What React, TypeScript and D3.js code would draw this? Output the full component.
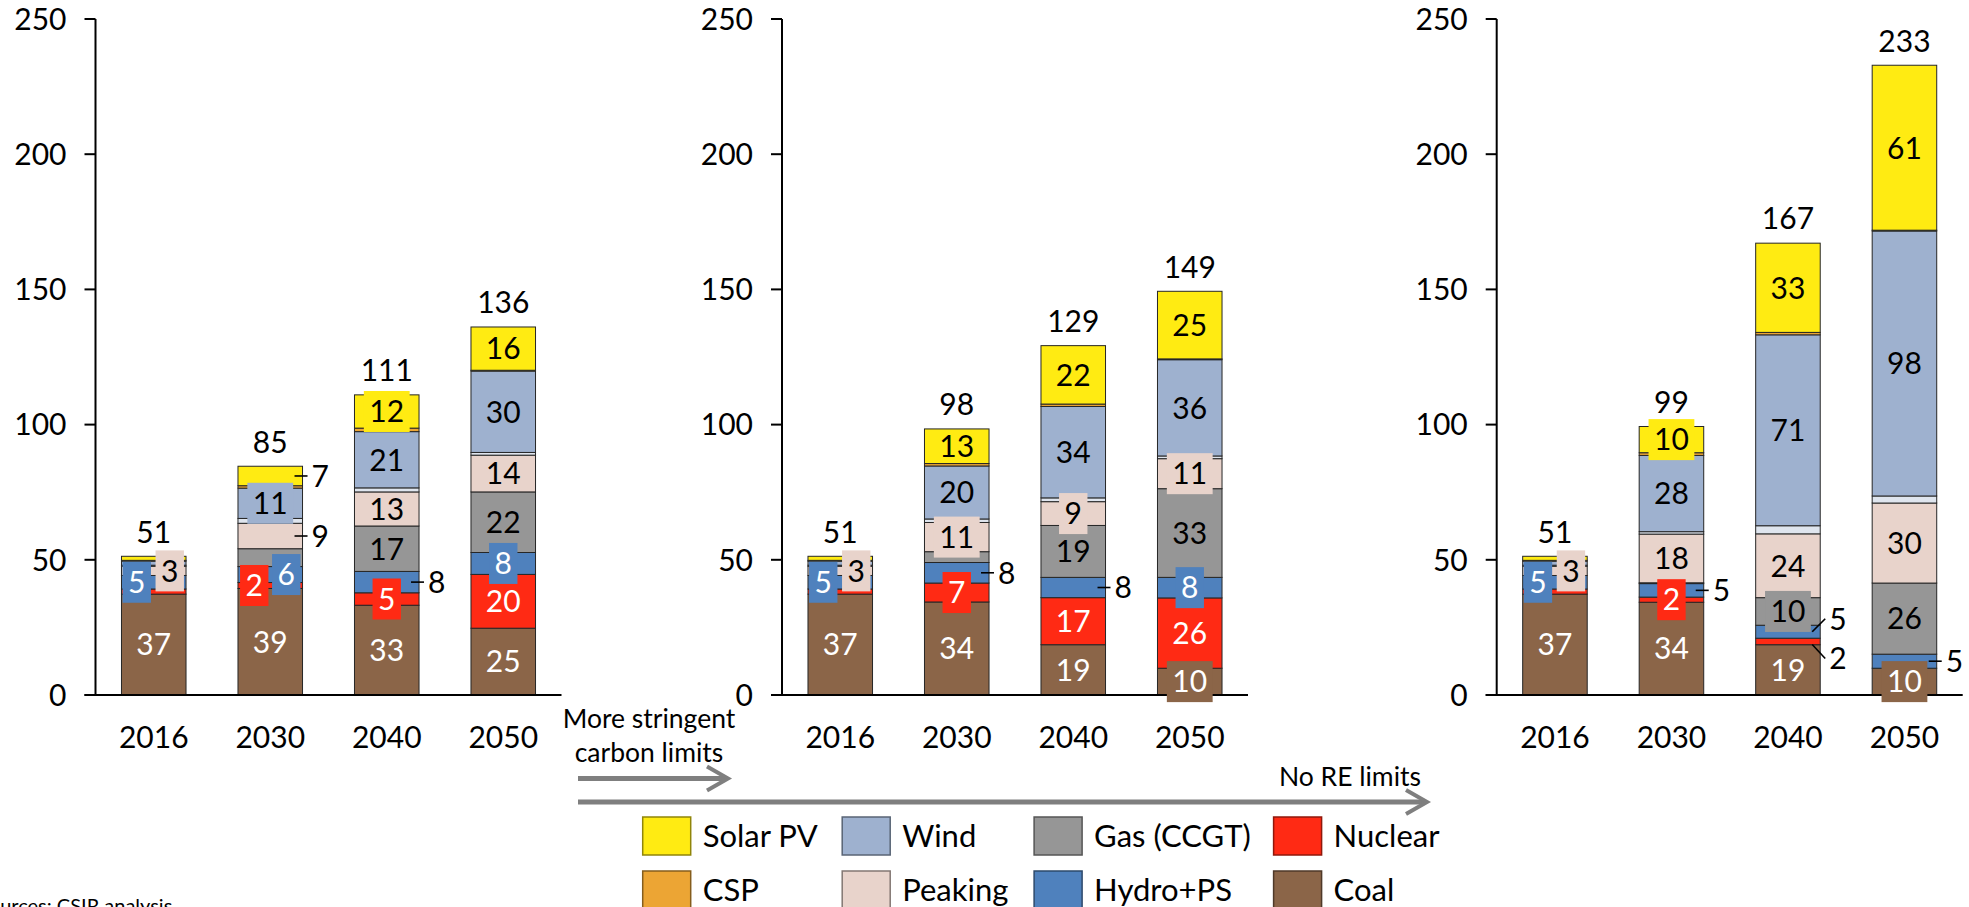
import React from 'react';
import * as d3 from 'd3';

// ---------- DATA ----------
const years = ['2016', '2030', '2040', '2050'];
const seriesKeys = ['coal', 'nuclear', 'hydro', 'gas', 'peaking', 'other', 'wind', 'csp', 'pv'];
const seriesColors: Record<string, string> = {
  coal: '#8b6548',
  nuclear: '#ff2a14',
  hydro: '#4f81bd',
  gas: '#969696',
  peaking: '#e8d3cb',
  other: '#dfe5ee',
  wind: '#9eb1cf',
  csp: '#eca534',
  pv: '#ffeb12',
};
const legendRow1 = [['pv', 'Solar PV'], ['wind', 'Wind'], ['gas', 'Gas (CCGT)'], ['nuclear', 'Nuclear']];
const legendRow2 = [['csp', 'CSP'], ['peaking', 'Peaking'], ['hydro', 'Hydro+PS'], ['coal', 'Coal']];
const yTicks = [0, 50, 100, 150, 200, 250];

// Scenario 1 (base)
const scenario1 = {
  coal: [37.3, 39.4, 33.2, 24.7],
  nuclear: [1.9, 2.2, 4.6, 19.9],
  hydro: [5.0, 5.9, 7.9, 8.1],
  gas: [0, 6.6, 16.8, 22.4],
  peaking: [3.4, 9.4, 12.6, 13.6],
  other: [0.4, 1.8, 1.5, 1.0],
  wind: [1.5, 11.2, 20.8, 30.1],
  csp: [0.3, 0.9, 1.3, 0.3],
  pv: [1.5, 7.2, 12.3, 16.0],
};
// Scenario 2 (more stringent carbon limits)
const scenario2 = {
  coal: [37.3, 34.4, 18.6, 9.9],
  nuclear: [1.9, 7.0, 17.4, 26.0],
  hydro: [5.0, 7.6, 7.5, 7.6],
  gas: [0, 4.0, 19.2, 32.8],
  peaking: [3.4, 10.8, 8.8, 11.1],
  other: [0.4, 1.3, 1.4, 1.0],
  wind: [1.5, 19.6, 33.8, 35.6],
  csp: [0.3, 0.9, 0.9, 0.3],
  pv: [1.5, 12.8, 21.6, 25.0],
};
// Scenario 3 (no RE limits)
const scenario3 = {
  coal: [37.3, 34.3, 18.6, 9.9],
  nuclear: [1.9, 1.9, 2.4, 0],
  hydro: [5.0, 5.0, 4.8, 5.2],
  gas: [0, 0.3, 10.2, 26.3],
  peaking: [3.4, 18.0, 23.6, 29.6],
  other: [0.4, 0.9, 3.0, 2.6],
  wind: [1.5, 28.2, 70.6, 98.0],
  csp: [0.3, 1.0, 0.9, 0.3],
  pv: [1.5, 9.7, 33.0, 61.0],
};

// label placement: [yearIndex, series, style, dx]
type LabelSpec = [number, string, string, number?];
const labels2016: LabelSpec[] = [[0, 'coal', 'in'], [0, 'hydro', 'box', -17], [0, 'peaking', 'box', 16]];
const labels1: LabelSpec[] = [
  ...labels2016,
  [1, 'coal', 'in'], [1, 'nuclear', 'box', -16], [1, 'hydro', 'box', 16], [1, 'peaking', 'lead'], [1, 'wind', 'box'], [1, 'pv', 'lead'],
  [2, 'coal', 'in'], [2, 'nuclear', 'box'], [2, 'hydro', 'lead'], [2, 'gas', 'in'], [2, 'peaking', 'in'], [2, 'wind', 'in'], [2, 'pv', 'box'],
  [3, 'coal', 'in'], [3, 'nuclear', 'in'], [3, 'hydro', 'box'], [3, 'gas', 'in'], [3, 'peaking', 'in'], [3, 'wind', 'in'], [3, 'pv', 'in'],
];
const labels2: LabelSpec[] = [
  ...labels2016,
  [1, 'coal', 'in'], [1, 'nuclear', 'box'], [1, 'hydro', 'lead'], [1, 'peaking', 'box'], [1, 'wind', 'in'], [1, 'pv', 'in'],
  [2, 'coal', 'in'], [2, 'nuclear', 'in'], [2, 'hydro', 'lead'], [2, 'gas', 'in'], [2, 'peaking', 'box'], [2, 'wind', 'in'], [2, 'pv', 'in'],
  [3, 'coal', 'box'], [3, 'nuclear', 'in'], [3, 'hydro', 'box'], [3, 'gas', 'in'], [3, 'peaking', 'box'], [3, 'wind', 'in'], [3, 'pv', 'in'],
];
const labels3: LabelSpec[] = [
  ...labels2016,
  [1, 'coal', 'in'], [1, 'nuclear', 'box'], [1, 'hydro', 'lead'], [1, 'peaking', 'in'], [1, 'wind', 'in'], [1, 'pv', 'box'],
  [2, 'coal', 'in'], [2, 'nuclear', 'leadDown'], [2, 'hydro', 'leadUp'], [2, 'gas', 'box'], [2, 'peaking', 'in'], [2, 'wind', 'in'], [2, 'pv', 'in'],
  [3, 'coal', 'box'], [3, 'hydro', 'lead'], [3, 'gas', 'in'], [3, 'peaking', 'in'], [3, 'wind', 'in'], [3, 'pv', 'in'],
];

// ---------- LAYOUT ----------
const W = 1969;
const H = 907;
const FONT = "Lato, 'Open Sans', sans-serif";
const panelAxisX = [95.5, 782, 1496.7];
const panelWidth = 466;
const yScale = d3.scaleLinear().domain([0, 250]).range([695, 19]);
const whiteText = new Set(['coal', 'nuclear', 'hydro']);
const fmt = d3.format('.0f');

type Scenario = Record<string, number[]>;

function Panel({ data, axisX, specs }: { data: Scenario; axisX: number; specs: LabelSpec[] }) {
  const rows = years.map((y, i) => {
    const r: any = { year: y };
    seriesKeys.forEach((k) => (r[k] = data[k][i]));
    return r;
  });
  const stack = d3.stack<any>().keys(seriesKeys)(rows);
  const x = d3
    .scaleBand<string>()
    .domain(years)
    .range([axisX, axisX + panelWidth])
    .paddingInner(0.446)
    .paddingOuter(0.223);
  const bw = x.bandwidth();
  const totals = rows.map((r) => d3.sum(seriesKeys, (k) => r[k]));
  const charW = 17.4;

  return (
    <g>
      {/* bars */}
      {stack.map((s) => (
        <g key={s.key}>
          {s.map((d, i) => {
            const h = yScale(d[0]) - yScale(d[1]);
            if (h <= 0) return null;
            return (
              <rect
                key={i}
                x={x(years[i])}
                y={yScale(d[1])}
                width={bw}
                height={h}
                fill={seriesColors[s.key]}
                stroke="#262626"
                strokeWidth={1}
              />
            );
          })}
        </g>
      ))}
      {/* axes */}
      <line x1={axisX} x2={axisX} y1={yScale(250)} y2={yScale(0)} stroke="#000" strokeWidth={2} />
      <line x1={axisX - 11} x2={axisX + panelWidth} y1={yScale(0)} y2={yScale(0)} stroke="#000" strokeWidth={2} />
      {yTicks.map((t) => (
        <g key={t}>
          <line x1={axisX - 11} x2={axisX} y1={yScale(t)} y2={yScale(t)} stroke="#000" strokeWidth={2} />
          <text x={axisX - 29} y={yScale(t)} dy="0.36em" textAnchor="end" fontSize={30} fill="#000">
            {t}
          </text>
        </g>
      ))}
      {years.map((y) => (
        <text key={y} x={x(y)! + bw / 2} y={737} dy="0.36em" textAnchor="middle" fontSize={30} fill="#000">
          {y}
        </text>
      ))}
      {/* segment labels */}
      {specs.map(([i, key, style, dx = 0], n) => {
        const s = stack.find((q) => q.key === key)!;
        const seg = s[i];
        const v = seg[1] - seg[0];
        const txt = fmt(v);
        const cx = x(years[i])! + bw / 2;
        const cy = (yScale(seg[0]) + yScale(seg[1])) / 2;
        const right = x(years[i])! + bw;
        const col = whiteText.has(key) ? '#fff' : '#000';
        if (style === 'in' || style === 'box') {
          const w = txt.length * charW + 11;
          return (
            <g key={n}>
              {style === 'box' && (
                <rect x={cx + dx - w / 2} y={cy - 20.5} width={w} height={41} fill={seriesColors[key]} />
              )}
              <text x={cx + dx} y={cy} dy="0.36em" textAnchor="middle" fontSize={30} fill={col}>
                {txt}
              </text>
            </g>
          );
        }
        let y1 = cy;
        let y2 = cy;
        if (style === 'leadUp') y2 = cy - 13;
        if (style === 'leadDown') {
          y1 = cy + 3;
          y2 = cy + 17;
        }
        return (
          <g key={n}>
            <line x1={right - 8} x2={right + 5} y1={y1} y2={y2} stroke="#000" strokeWidth={1.6} />
            <text x={right + 9} y={y2} dy="0.36em" textAnchor="start" fontSize={30} fill="#000">
              {txt}
            </text>
          </g>
        );
      })}
      {/* totals */}
      {totals.map((t, i) => (
        <text
          key={i}
          x={x(years[i])! + bw / 2}
          y={yScale(t) - 24.5}
          dy="0.36em"
          textAnchor="middle"
          fontSize={30}
          fill="#000"
        >
          {fmt(t)}
        </text>
      ))}
    </g>
  );
}

function Arrow({ x1, x2, y }: { x1: number; x2: number; y: number }) {
  return (
    <g stroke="#7f7f7f" fill="none" strokeLinecap="butt">
      <line x1={x1} x2={x2 - 2} y1={y} y2={y} strokeWidth={5} />
      <polyline points={`${x2 - 21},${y - 12} ${x2},${y} ${x2 - 21},${y + 12}`} strokeWidth={4} />
    </g>
  );
}

const legendColX = [642.7, 842.2, 1034.1, 1273.6];
const legendRowY = [817, 871];

export default function App() {
  return (
    <svg
      width={W}
      height={H}
      style={{ position: 'absolute', left: 0, top: 0, background: '#fff' }}
      fontFamily={FONT}
    >
      <rect x={0} y={0} width={W} height={H} fill="#fff" />
      <Panel data={scenario1} axisX={panelAxisX[0]} specs={labels1} />
      <Panel data={scenario2} axisX={panelAxisX[1]} specs={labels2} />
      <Panel data={scenario3} axisX={panelAxisX[2]} specs={labels3} />

      {/* arrows & annotations */}
      <text x={649} y={718} dy="0.36em" textAnchor="middle" fontSize={26.5} fill="#000">
        More stringent
      </text>
      <text x={649} y={752} dy="0.36em" textAnchor="middle" fontSize={26.5} fill="#000">
        carbon limits
      </text>
      <Arrow x1={578} x2={728} y={778.5} />
      <text x={1421} y={776} dy="0.36em" textAnchor="end" fontSize={26.5} fill="#000">
        No RE limits
      </text>
      <Arrow x1={578} x2={1427} y={802} />

      {/* legend */}
      {[legendRow1, legendRow2].map((row, r) =>
        row.map(([key, name], c) => (
          <g key={key}>
            <rect
              x={legendColX[c]}
              y={legendRowY[r]}
              width={48}
              height={38}
              fill={seriesColors[key]}
              stroke={d3.color(seriesColors[key])!.darker(1.6).toString()}
              strokeWidth={1.5}
            />
            <text x={legendColX[c] + 60} y={legendRowY[r] + 19} dy="0.36em" fontSize={31} fill="#000">
              {name}
            </text>
          </g>
        ))
      )}

      {/* source */}
      <text x={-22} y={913} fontSize={20} fill="#000">
        Sources: CSIR analysis
      </text>
    </svg>
  );
}
